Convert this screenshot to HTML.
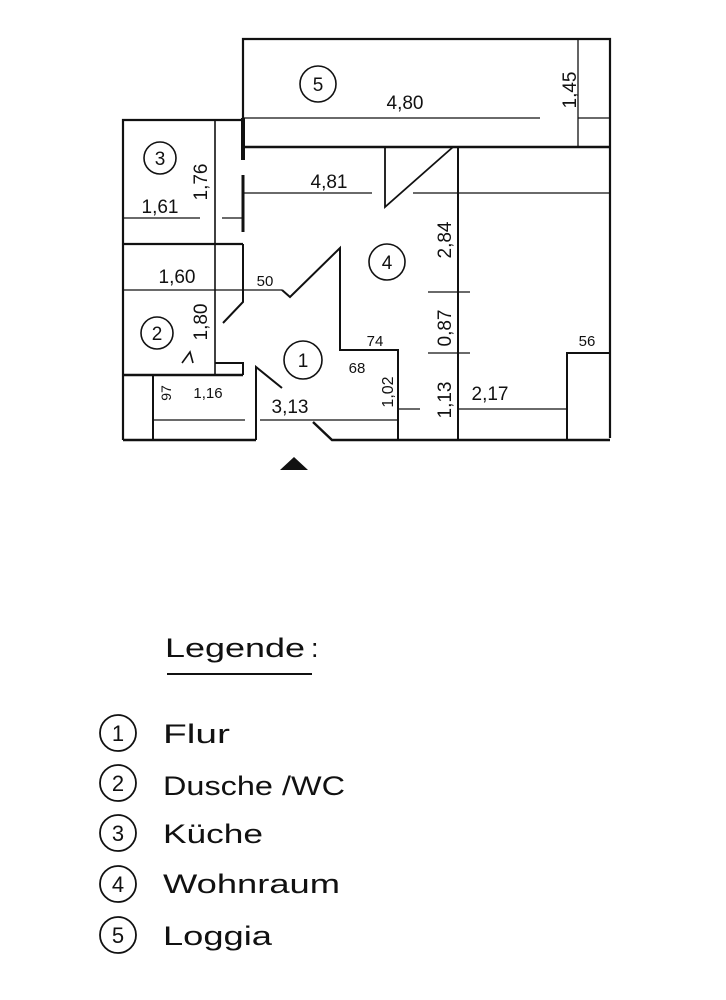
<!DOCTYPE html>
<html><head><meta charset="utf-8"><style>
html,body{margin:0;padding:0;background:#fff;}
svg{display:block;}
text{font-family:"Liberation Sans",sans-serif;fill:#111;}
</style></head><body>
<svg width="726" height="1000" viewBox="0 0 726 1000" xmlns="http://www.w3.org/2000/svg">
<g stroke="#111" fill="none" stroke-width="2.2">
<!-- Loggia -->
<polyline points="243,118 243,39 610,39 610,438"/>
<line x1="243" y1="147" x2="610" y2="147" stroke-width="2.6"/>
<line x1="243" y1="118" x2="243" y2="160" stroke-width="4"/>
<line x1="243" y1="175" x2="243" y2="232" stroke-width="3"/>
<line x1="243" y1="118" x2="540" y2="118" stroke-width="1.3"/>
<line x1="578" y1="39" x2="578" y2="147" stroke-width="1.3"/>
<line x1="578" y1="118" x2="610" y2="118" stroke-width="1.3"/>
<!-- Kitchen -->
<polyline points="243,120 123,120 123,440"/>
<line x1="215" y1="120" x2="215" y2="375" stroke-width="1.6"/>
<line x1="123" y1="244" x2="243" y2="244"/>
<line x1="123" y1="218" x2="200" y2="218" stroke-width="1.3"/>
<line x1="222" y1="218" x2="243" y2="218" stroke-width="1.3"/>
<!-- 4.81 -->
<line x1="243" y1="193" x2="372" y2="193" stroke-width="1.3"/>
<line x1="413" y1="193" x2="610" y2="193" stroke-width="1.3"/>
<!-- door top -->
<polyline points="385,147 385,207 453,147" stroke-width="1.8"/>
<!-- vertical dim -->
<line x1="458" y1="147" x2="458" y2="440" stroke-width="2"/>
<line x1="428" y1="292" x2="470" y2="292" stroke-width="1.3"/>
<line x1="428" y1="353" x2="470" y2="353" stroke-width="1.3"/>
<!-- 1.60 -->
<line x1="123" y1="290" x2="282" y2="290" stroke-width="1.3"/>
<polyline points="282,290 290,297 340,248 340,350 398,350 398,440" stroke-width="2"/>
<!-- bath wall -->
<polyline points="243,244 243,302 223,323" stroke-width="2"/>
<polyline points="182,363 190,352 193,363" stroke-width="1.6"/>
<polyline points="215,363 243,363 243,375" stroke-width="2"/>
<line x1="123" y1="375" x2="243" y2="375" stroke-width="2.4"/>
<line x1="153" y1="375" x2="153" y2="440" stroke-width="2"/>
<!-- door bottom -->
<polyline points="256,440 256,367 282,388" stroke-width="2"/>
<!-- bottom -->
<line x1="123" y1="440" x2="256" y2="440" stroke-width="2.4"/>
<polyline points="313,422 332,440 610,440" stroke-width="2.4"/>
<!-- 3.13 -->
<line x1="153" y1="420" x2="245" y2="420" stroke-width="1.3"/>
<line x1="260" y1="420" x2="398" y2="420" stroke-width="1.3"/>
<line x1="398" y1="409" x2="420" y2="409" stroke-width="1.3"/>
<!-- 2.17 -->
<line x1="458" y1="409" x2="567" y2="409" stroke-width="1.3"/>
<polyline points="567,440 567,353 610,353" stroke-width="2"/>
<!-- circles -->
<circle cx="318" cy="84" r="18" stroke-width="1.6"/>
<circle cx="160" cy="158" r="16" stroke-width="1.6"/>
<circle cx="157" cy="333" r="16" stroke-width="1.6"/>
<circle cx="387" cy="262" r="18" stroke-width="1.6"/>
<circle cx="303" cy="360" r="19" stroke-width="1.6"/>
</g>
<polygon points="280,470 294,457 308,470" fill="#111"/>
<g font-size="19" text-anchor="middle">
<text x="318" y="91">5</text>
<text x="160" y="165">3</text>
<text x="157" y="340">2</text>
<text x="387" y="269">4</text>
<text x="303" y="367">1</text>
<text x="405" y="109">4,80</text>
<text x="329" y="188">4,81</text>
<text x="160" y="213">1,61</text>
<text x="177" y="283">1,60</text>
<text x="265" y="286" font-size="15">50</text>
<text x="375" y="346" font-size="15">74</text>
<text x="357" y="373" font-size="15">68</text>
<text x="208" y="398" font-size="15">1,16</text>
<text x="290" y="413">3,13</text>
<text x="490" y="400">2,17</text>
<text x="587" y="346" font-size="15">56</text>
<text transform="translate(576,90) rotate(-90)">1,45</text>
<text transform="translate(207,182) rotate(-90)">1,76</text>
<text transform="translate(207,322) rotate(-90)">1,80</text>
<text transform="translate(451,240) rotate(-90)">2,84</text>
<text transform="translate(451,328) rotate(-90)">0,87</text>
<text transform="translate(451,400) rotate(-90)">1,13</text>
<text transform="translate(393,392) rotate(-90)" font-size="16">1,02</text>
<text transform="translate(171,393) rotate(-90)" font-size="14">97</text>
</g>
<!-- legend -->
<g font-size="27">
<text x="165" y="657" textLength="140" lengthAdjust="spacingAndGlyphs">Legende</text>
<text x="311" y="657">:</text>
<line x1="167" y1="674" x2="312" y2="674" stroke="#111" stroke-width="2"/>
<text x="163" y="743" textLength="67" lengthAdjust="spacingAndGlyphs">Flur</text>
<text x="163" y="795" textLength="182" lengthAdjust="spacingAndGlyphs">Dusche /WC</text>
<text x="163" y="843" textLength="100" lengthAdjust="spacingAndGlyphs">Küche</text>
<text x="163" y="893" textLength="177" lengthAdjust="spacingAndGlyphs">Wohnraum</text>
<text x="163" y="945" textLength="109" lengthAdjust="spacingAndGlyphs">Loggia</text>
</g>
<g stroke="#111" fill="none" stroke-width="1.8">
<circle cx="118" cy="733" r="18"/>
<circle cx="118" cy="783" r="18"/>
<circle cx="118" cy="833" r="18"/>
<circle cx="118" cy="884" r="18"/>
<circle cx="118" cy="935" r="18"/>
</g>
<g font-size="22" text-anchor="middle">
<text x="118" y="741">1</text>
<text x="118" y="791">2</text>
<text x="118" y="841">3</text>
<text x="118" y="892">4</text>
<text x="118" y="943">5</text>
</g>
</svg>
</body></html>
